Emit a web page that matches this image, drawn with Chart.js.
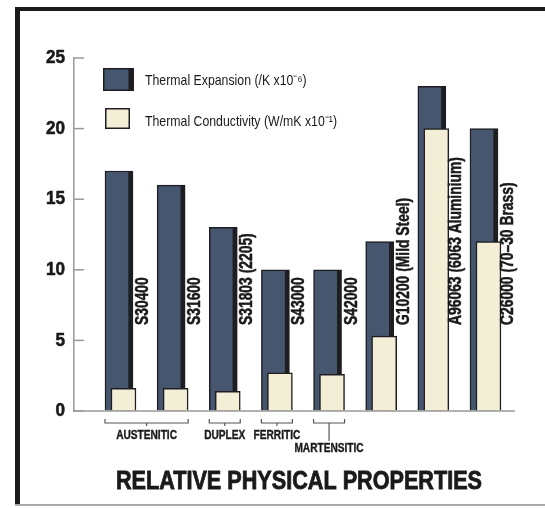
<!DOCTYPE html>
<html>
<head>
<meta charset="utf-8">
<script src="https://cdn.jsdelivr.net/npm/chart.js@4"></script>
<style>
  html, body { margin: 0; padding: 0; background: #fff; }
  #wrap { width: 545px; height: 508px; }
</style>
</head>
<body>
<div id="wrap"><canvas id="grafico"></canvas></div>
<script>
// dados do gráfico
var categories = ['S30400', 'S31600', 'S31803 (2205)', 'S43000', 'S42000',
                  'G10200 (Mild Steel)', 'A96063 (6063 Aluminium)', 'C26000 (70–30 Brass)'];
var expansion = [17, 16, 13, 10, 10, 12, 23, 20];
var conductivity = [1.6, 1.6, 1.4, 2.7, 2.6, 5.3, 20, 12];
var yTicks = [0, 5, 10, 15, 20, 25];
var seriesNames = ['Thermal Expansion (/K x10⁻⁶)', 'Thermal Conductivity (W/mK x10⁻¹)'];
var groupNames = ['AUSTENITIC', 'DUPLEX', 'FERRITIC', 'MARTENSITIC'];
var groupFrom = [0, 2, 3, 4];
var groupTo = [1, 2, 3, 4];
var chartTitle = 'RELATIVE PHYSICAL PROPERTIES';

var FONT = "'Liberation Sans', Arial, sans-serif";
var DARK = '#46566f';
var CREAM = '#f3eed6';
var INK = '#1e1e22';
var TEXT = '#1a1a1a';

// texto "condensado": fonte normal comprimida na horizontal (sem fonte narrow instalada)
function narrowText(c, txt, x, y, font, align, sx, rot, heavy) {
    c.save();
    c.translate(x, y);
    if (rot) c.rotate(rot);
    c.scale(sx, 1);
    c.font = font;
    c.textAlign = align;
    c.textBaseline = 'middle';
    c.fillText(txt, 0, 0);
    if (heavy) {
        c.strokeStyle = c.fillStyle;
        c.lineWidth = heavy;
        c.strokeText(txt, 0, 0);
    }
    c.restore();
}

function bracket(c, x1, x2, y) {
    var mid = (x1 + x2) / 2;
    c.beginPath();
    c.moveTo(x1, y - 4); c.lineTo(x1, y); c.lineTo(x2, y); c.lineTo(x2, y - 4);
    c.moveTo(mid, y); c.lineTo(mid, y + 3);
    c.stroke();
    return mid;
}

var deco = {
    id: 'deco',
    beforeDraw: function(chart) {
        var c = chart.ctx;
        c.save();
        c.fillStyle = '#fff';
        c.fillRect(0, 0, chart.width, chart.height);
        // moldura
        c.fillStyle = '#1b1b1b';
        c.fillRect(15, 7, chart.width - 15, 4);
        c.fillRect(15, 7, 5, 498);
        c.fillStyle = '#aaa';
        c.fillRect(15, 504, chart.width - 15, 2);
        c.restore();
    },
    afterDraw: function(chart) {
        var c = chart.ctx, y = chart.scales.y, area = chart.chartArea;
        c.save();
        c.fillStyle = TEXT;
        // marcas e rótulos do eixo Y
        c.strokeStyle = '#999';
        c.lineWidth = 1.5;
        yTicks.forEach(function(v) {
            var py = y.getPixelForValue(v);
            c.strokeStyle = '#999';
            c.lineWidth = 1.5;
            c.beginPath(); c.moveTo(area.left, py); c.lineTo(area.left + 10, py); c.stroke();
            narrowText(c, String(v), area.left - 9, py, 'bold 19px ' + FONT, 'right', 0.9, 0, 0.6);
        });
        // linha base
        var py0 = y.getPixelForValue(0);
        c.strokeStyle = '#999';
        c.lineWidth = 1.5;
        c.beginPath(); c.moveTo(area.left, py0); c.lineTo(area.right, py0); c.stroke();

        var darkBars = chart.getDatasetMeta(0).data;
        var lightBars = chart.getDatasetMeta(1).data;

        // rótulos verticais
        categories.forEach(function(name, i) {
            var b = lightBars[i];
            narrowText(c, name, b.x + b.width / 2 + 7, 325, 'bold 18px ' + FONT, 'left', 0.77, -Math.PI / 2, 0.5);
        });

        // grupos
        groupNames.forEach(function(name, g) {
            var a = darkBars[groupFrom[g]], b = lightBars[groupTo[g]];
            c.strokeStyle = '#555';
            c.lineWidth = 1.2;
            var mid = bracket(c, a.x - a.width / 2, b.x + b.width / 2, 423);
            var ty = 435;
            if (name === 'MARTENSITIC') {
                c.beginPath(); c.moveTo(mid, 426); c.lineTo(mid, 441); c.stroke();
                ty = 448;
            }
            narrowText(c, name, mid, ty, 'bold 13px ' + FONT, 'center', 0.78, 0, 0.4);
        });

        // legenda
        c.fillStyle = INK;
        c.fillRect(103, 68, 31, 23);
        c.fillStyle = DARK;
        c.fillRect(104.5, 69.5, 24, 20);
        c.fillStyle = INK;
        c.fillRect(105, 108, 25, 21);
        c.fillStyle = CREAM;
        c.fillRect(106.5, 109.5, 22, 18);
        c.fillStyle = TEXT;
        narrowText(c, seriesNames[0], 145, 80.5, '15px ' + FONT, 'left', 0.82);
        narrowText(c, seriesNames[1], 145, 121.5, '15px ' + FONT, 'left', 0.82);

        // título
        narrowText(c, chartTitle, 299, 482.5, 'bold 25px ' + FONT, 'center', 0.865, 0, 0.8);
        c.restore();
    }
};

var ctx = document.getElementById('grafico').getContext('2d');
var chart = new Chart(ctx, {
    type: 'bar',
    data: {
        datasets: [{
            label: seriesNames[0],
            data: expansion.map(function(v, i) { return { x: i, y: v }; }),
            backgroundColor: DARK,
            borderColor: INK,
            borderWidth: { left: 1.5, top: 1.5, right: 5, bottom: 0 },
            barThickness: 28,
            grouped: false,
            order: 2
        }, {
            label: seriesNames[1],
            data: conductivity.map(function(v, i) { return { x: i + 0.086, y: v }; }),
            backgroundColor: CREAM,
            borderColor: INK,
            borderWidth: 1.5,
            barThickness: 25,
            grouped: false,
            order: 1
        }]
    },
    options: {
        responsive: true,
        maintainAspectRatio: false,
        animation: false,
        layout: { padding: { left: 0, right: 30, top: 58, bottom: 97 } },
        plugins: { legend: { display: false }, tooltip: { enabled: false } },
        scales: {
            x: {
                type: 'linear',
                offset: false,
                min: -0.863,
                max: 7.595,
                display: false
            },
            y: {
                min: 0,
                max: 25,
                afterFit: function(s) { s.width = 74; },
                afterBuildTicks: function(s) { s.ticks = yTicks.map(function(v) { return { value: v }; }); },
                grid: { drawOnChartArea: false, drawTicks: false },
                border: { display: true, color: '#999', width: 1.5 },
                ticks: { display: false }
            }
        }
    },
    plugins: [deco]
});
</script>
</body>
</html>
